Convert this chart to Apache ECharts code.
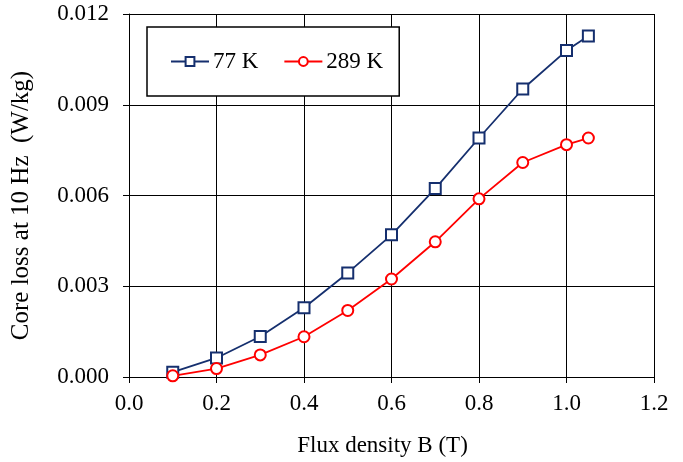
<!DOCTYPE html>
<html>
<head>
<meta charset="utf-8">
<script src="https://cdn.jsdelivr.net/npm/echarts@6/dist/echarts.min.js"></script>
<style>
  html, body { margin: 0; padding: 0; background: #fff; }
  #chart { width: 683px; height: 462px; }
</style>
</head>
<body>
<div id="chart"></div>
<script>
// Flux density values (T)
const fluxDensity = [0.1, 0.2, 0.3, 0.4, 0.5, 0.6, 0.7, 0.8, 0.9, 1.0, 1.05];
// Core loss at 10 Hz (W/kg)
const loss77K  = [0.00016, 0.00063, 0.00134, 0.00229, 0.00344, 0.00470, 0.00623, 0.00790, 0.00952, 0.01079, 0.01127];
const loss289K = [0.00004, 0.00028, 0.00073, 0.00133, 0.00220, 0.00324, 0.00447, 0.00589, 0.00709, 0.00768, 0.00790];
const seriesNames = ['77 K', '289 K'];

const FONT = "'Liberation Serif', 'Times New Roman', serif";
const pair = (xs, ys) => xs.map((x, i) => [x, ys[i]]);

const chart = echarts.init(document.getElementById('chart'), null, { renderer: 'canvas' });
chart.setOption({
  animation: false,
  backgroundColor: '#fff',
  textStyle: { fontFamily: FONT, color: '#000' },
  grid: { left: 129, right: 29, top: 14, bottom: 84, containLabel: false },
  legend: {
    data: seriesNames,
    left: 147,
    top: 27,
    orient: 'horizontal',
    padding: [23, 16, 23, 23],
    itemGap: 25,
    itemWidth: 38,
    itemHeight: 11,
    borderColor: '#000',
    borderWidth: 1.5,
    backgroundColor: '#fff',
    textStyle: { fontFamily: FONT, fontSize: 23, color: '#000', padding: [0, 0, 0, -1] }
  },
  xAxis: {
    type: 'value',
    min: 0, max: 1.2, interval: 0.2,
    name: 'Flux density B (T)',
    nameLocation: 'middle',
    nameGap: 57,
    nameTextStyle: { fontFamily: FONT, fontSize: 23, color: '#000', padding: [0, 18, 0, 0] },
    axisLine: { show: true, lineStyle: { color: '#000', width: 1 } },
    axisTick: { show: true, inside: false, length: 6, lineStyle: { color: '#000' } },
    axisLabel: { fontFamily: FONT, fontSize: 23, color: '#000', margin: 15,
                 formatter: v => v.toFixed(1) },
    splitLine: { show: true, lineStyle: { color: '#000', width: 1 } }
  },
  yAxis: {
    type: 'value',
    min: 0, max: 0.012, interval: 0.003,
    name: 'Core loss at 10 Hz  (W/kg)',
    nameLocation: 'middle',
    nameGap: 95,
    nameTextStyle: { fontFamily: FONT, fontSize: 25, color: '#000', padding: [0, 20, 0, 0] },
    axisLine: { show: true, lineStyle: { color: '#000', width: 1 } },
    axisTick: { show: true, inside: false, length: 6, lineStyle: { color: '#000' } },
    axisLabel: { fontFamily: FONT, fontSize: 23, color: '#000', margin: 20,
                 formatter: v => v.toFixed(3) },
    splitLine: { show: true, lineStyle: { color: '#000', width: 1 } }
  },
  series: [
    {
      name: seriesNames[0],
      type: 'line',
      data: pair(fluxDensity, loss77K),
      symbol: 'emptyRect',
      symbolSize: 11,
      color: '#152f6e',
      lineStyle: { color: '#152f6e', width: 1.8 },
      itemStyle: { color: '#152f6e', borderColor: '#152f6e', borderWidth: 2 }
    },
    {
      name: seriesNames[1],
      type: 'line',
      data: pair(fluxDensity, loss289K),
      symbol: 'emptyCircle',
      symbolSize: 11,
      color: '#ff0000',
      lineStyle: { color: '#ff0000', width: 1.8 },
      itemStyle: { color: '#ff0000', borderColor: '#ff0000', borderWidth: 1.8 }
    }
  ]
});
</script>
</body>
</html>
